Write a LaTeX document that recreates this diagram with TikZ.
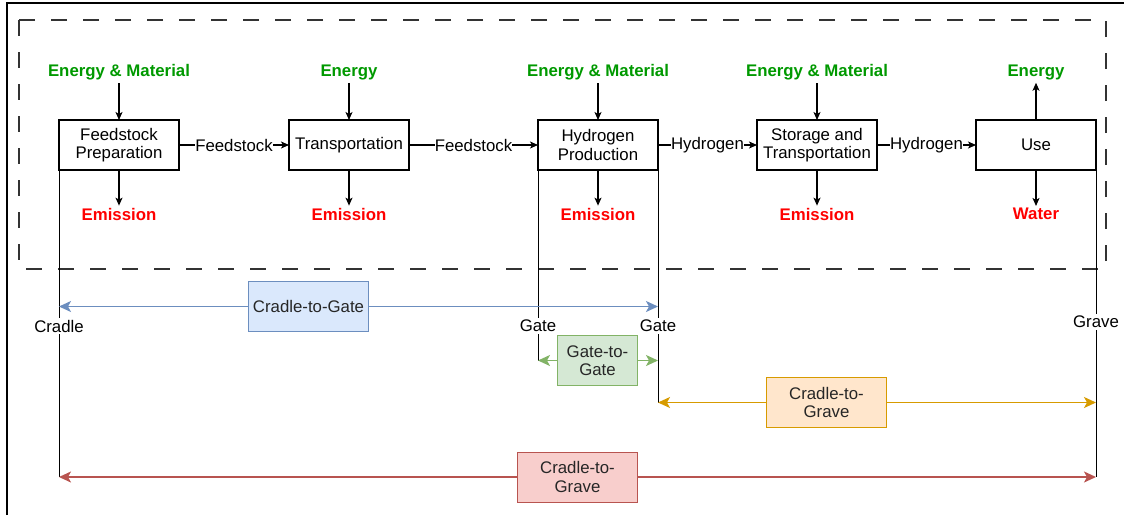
\documentclass[tikz,border=0pt]{standalone}
\usepackage{fontspec}
\setmainfont{Liberation Sans}
\usepackage{tikz}
\usetikzlibrary{arrows.meta}
\definecolor{ingreen}{HTML}{009900}
\definecolor{outred}{HTML}{FF0000}
\definecolor{ctgline}{HTML}{6C8EBF}
\definecolor{ctgfill}{HTML}{DAE8FC}
\definecolor{gtgline}{HTML}{82B366}
\definecolor{gtgfill}{HTML}{D5E8D4}
\definecolor{usegline}{HTML}{D79B00}
\definecolor{usegfill}{HTML}{FFE6CC}
\definecolor{allgline}{HTML}{B85450}
\definecolor{allgfill}{HTML}{F8CECC}
\tikzstyle{block} = [draw, rectangle, line width=1.5pt, outer sep=0pt, minimum height=50pt, minimum width=120pt, align=center]
\tikzstyle{inlabel} = [text=ingreen, font=\fontsize{16.8}{18.5}\selectfont\bfseries, inner sep=3pt]
\tikzstyle{outlabel} = [text=outred, font=\fontsize{16.8}{18.5}\selectfont\bfseries, inner sep=2pt]
\tikzstyle{flow} = [-{Stealth[length=8pt,width=7pt,inset=2pt]}, line width=1.1pt]
\tikzstyle{flowlabel} = [fill=white, inner sep=0pt]
\tikzstyle{boundary} = [line width=0.9pt]
\tikzstyle{stage} = [fill=white, inner sep=2pt]
\tikzstyle{scopebox} = [rectangle, line width=0.9pt, minimum height=50pt, minimum width=120pt, inner sep=2pt, align=center, text=black!85]
\tikzstyle{span} = [line width=1.6pt, -{Stealth[length=12pt,width=11pt,inset=3pt]}]

\begin{document}
\begin{tikzpicture}[x=1pt, y=-1pt, font=\fontsize{16.8}{18.5}\selectfont]
	\useasboundingbox (0,0) rectangle (1124,515);
	\draw[line width=2pt] (7,515) -- (7,3) -- (1124,3);
	\draw[line width=2.2pt, black!80, dash pattern=on 16pt off 16pt] (19,20) rectangle (1106,269);

	\node (FEED_PREP) [block] at (119,145) {Feedstock\\Preparation};
	\node (TRANSPORT) [block] at (349,145) {Transportation};
	\node (H2_PROD) [block] at (598,145) {Hydrogen\\Production};
	\node (STORAGE) [block] at (817,145) {Storage and\\Transportation};
	\node (USE) [block] at (1036,145) {Use};

	\node (IN_FEED) [inlabel] at (119,72) {Energy \& Material};
	\node (IN_TRANS) [inlabel] at (349,72) {Energy};
	\node (IN_H2) [inlabel] at (598,72) {Energy \& Material};
	\node (IN_STOR) [inlabel] at (817,72) {Energy \& Material};
	\node (OUT_ENERGY) [inlabel] at (1036,72) {Energy};

	\node (OUT_FEED) [outlabel] at (119,214) {Emission};
	\node (OUT_TRANS) [outlabel] at (349,214) {Emission};
	\node (OUT_H2) [outlabel] at (598,214) {Emission};
	\node (OUT_STOR) [outlabel] at (817,214) {Emission};
	\node (OUT_WATER) [outlabel] at (1036,214) {Water};

	\draw[flow] (IN_FEED) -- (FEED_PREP);
	\draw[flow] (IN_TRANS) -- (TRANSPORT);
	\draw[flow] (IN_H2) -- (H2_PROD);
	\draw[flow] (IN_STOR) -- (STORAGE);
	\draw[flow] (USE) -- (OUT_ENERGY);
	\draw[flow] (FEED_PREP) -- (OUT_FEED);
	\draw[flow] (TRANSPORT) -- (OUT_TRANS);
	\draw[flow] (H2_PROD) -- (OUT_H2);
	\draw[flow] (STORAGE) -- (OUT_STOR);
	\draw[flow] (USE) -- (OUT_WATER);

	\draw[flow] (FEED_PREP) -- node[flowlabel]{Feedstock} (TRANSPORT);
	\draw[flow] (TRANSPORT) -- node[flowlabel]{Feedstock} (H2_PROD);
	\draw[flow] (H2_PROD) -- node[flowlabel]{Hydrogen} (STORAGE);
	\draw[flow] (STORAGE) -- node[flowlabel]{Hydrogen} (USE);

	\node (CTG) [scopebox, draw=ctgline, fill=ctgfill] at (308.5,306.5) {Cradle-to-Gate};
	\node (GTG) [scopebox, draw=gtgline, fill=gtgfill, minimum width=80pt] at (597.5,360.5) {Gate-to-\\Gate};
	\node (CTGR_USE) [scopebox, draw=usegline, fill=usegfill] at (826.5,402.5) {Cradle-to-\\Grave};
	\node (CTGR_ALL) [scopebox, draw=allgline, fill=allgfill] at (577.5,477) {Cradle-to-\\Grave};

	\coordinate (CRADLE_END) at (FEED_PREP.south west |- CTGR_ALL);
	\coordinate (GATE_IN_END) at (H2_PROD.south west |- GTG);
	\coordinate (GATE_OUT_END) at (H2_PROD.south east |- CTGR_USE);
	\coordinate (GRAVE_END) at (USE.south east |- CTGR_ALL);
	\draw[boundary] (FEED_PREP.south west) -- (CRADLE_END);
	\draw[boundary] (H2_PROD.south west) -- (GATE_IN_END);
	\draw[boundary] (H2_PROD.south east) -- (GATE_OUT_END);
	\draw[boundary] (USE.south east) -- (GRAVE_END);
	\node (CRADLE) [stage] at (FEED_PREP.south west |- 0,326) {Cradle};
	\node (GATE_IN) [stage] at (H2_PROD.south west |- 0,326) {Gate};
	\node (GATE_OUT) [stage] at (H2_PROD.south east |- 0,326) {Gate};
	\node (GRAVE) [stage] at (USE.south east |- 0,322) {Grave};

	\draw[span, ctgline] (CTG) -- (CRADLE_END |- CTG);
	\draw[span, ctgline] (CTG) -- (GATE_OUT_END |- CTG);
	\draw[span, gtgline] (GTG) -- (GATE_IN_END);
	\draw[span, gtgline] (GTG) -- (GATE_OUT_END |- GTG);
	\draw[span, usegline] (CTGR_USE) -- (GATE_OUT_END);
	\draw[span, usegline] (CTGR_USE) -- (GRAVE_END |- CTGR_USE);
	\draw[span, allgline] (CTGR_ALL) -- (CRADLE_END);
	\draw[span, allgline] (CTGR_ALL) -- (GRAVE_END);
\end{tikzpicture}
\end{document}
